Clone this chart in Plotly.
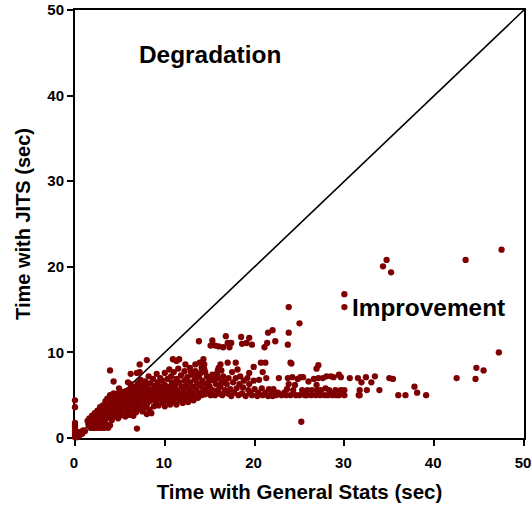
import plotly.graph_objects as go

diag_x = [0, 50]
diag_y = [0, 50]

# (general stats time, JITS time) pairs, region by region
on_axis = [[0,0.1],[0,0.3],[0,0.5],[0,0.8],[0,1.2],[0,1.5],[0,1.75],[0,3.6],[0,4.4],[0.1,0.2],[0.1,0.6],[0.2,0.1],
           [0.2,0.4],[0.3,0.3],[0.3,0.7],[0.4,0.2],[0.5,0.5],[0.6,0.4],[0.7,0.7],[0.8,0.5],[0.9,0.9],[1.1,0.8]]
low_left = [[1.4,2.0],[1.5,1.6],[1.6,2.3],[1.7,1.2],[1.8,1.9],[1.9,2.6],[2.0,1.2],[2.0,1.6],[2.1,2.2],[2.2,2.9],[2.2,1.2],
            [2.3,1.9],[2.4,2.5],[2.5,1.2],[2.5,1.6],[2.5,3.2],[2.6,2.1],[2.7,2.8],[2.8,1.2],[2.8,3.6],[2.9,1.7],[2.9,2.4],
            [3.0,1.2],[3.0,3.1],[3.1,2.0],[3.1,3.8],[3.2,2.7],[3.3,1.2],[3.3,3.4],[3.4,2.2],[3.4,4.3],[3.5,1.6],[3.5,2.9],
            [3.6,3.7],[3.6,4.6],[3.7,1.2],[3.7,2.4],[3.8,3.2],[3.8,4.1],[3.9,1.5],[3.9,2.7],[3.9,5.0],[4.0,3.5],[4.0,4.4]]
cluster_a = [[4.1,2.1],[4.2,3.0],[4.2,3.9],[4.3,4.7],[4.3,5.2],[4.4,2.6],[4.4,3.4],[4.5,4.2],[4.6,2.9],[4.6,5.0],[4.7,3.7],
             [4.8,2.3],[4.8,4.5],[4.9,3.2],[4.9,5.3],[5.0,2.6],[5.0,4.0],[5.1,4.8],[5.2,3.4],[5.2,5.4],[5.3,2.8],[5.4,4.3],
             [5.4,5.0],[5.5,3.7],[5.6,2.5],[5.6,4.6],[5.7,5.5],[5.8,3.2],[5.8,4.0],[5.9,4.9],[6.0,2.7],[6.0,3.6],[6.0,5.6],
             [6.1,4.4],[6.2,5.2],[6.2,6.3],[6.3,3.3],[6.3,4.0],[6.4,4.8],[6.4,5.7],[6.5,2.6],[6.5,3.6],[6.6,4.4],[6.7,5.2],
             [6.7,6.0],[6.8,3.0],[6.8,4.7],[6.9,3.9],[6.9,5.5],[7.0,3.4],[7.0,6.4],[7.1,4.4],[7.1,5.0],[7.2,5.8],[7.2,3.8],
             [7.3,4.7],[7.3,6.8],[7.4,5.3],[7.5,3.1],[7.5,4.2],[7.5,6.1],[7.6,4.9],[7.7,3.5],[7.7,5.6],[7.8,6.6],[7.9,4.4],
             [7.9,5.2],[8.0,2.8],[8.0,3.9],[8.0,6.0],[8.1,4.8],[8.2,5.5],[8.2,7.2],[8.3,3.3],[8.3,4.3],[8.4,6.4],[8.5,5.0],
             [8.5,2.9],[8.6,5.7],[8.7,4.5],[8.7,6.9],[8.8,3.7],[8.8,5.3],[8.9,6.1],[9.0,4.1],[9.0,4.9],[9.1,7.5],[9.2,5.6],
             [9.2,6.5],[9.3,3.8],[9.3,4.5],[9.4,5.2],[9.5,6.0],[9.5,7.0],[9.6,4.8],[9.7,5.5],[9.7,6.7],[9.8,4.1],[9.9,5.1]]
cluster_b = [[10.0,6.2],[10.0,3.7],[10.0,7.6],[10.1,4.6],[10.2,5.6],[10.3,6.9],[10.4,4.3],[10.4,5.0],[10.5,6.0],[10.5,8.0],
             [10.6,3.9],[10.7,5.4],[10.7,7.2],[10.8,4.7],[10.8,6.5],[10.9,5.8],[11.0,4.2],[11.0,7.7],[11.1,5.1],[11.2,6.2],
             [11.3,3.9],[11.3,6.9],[11.4,4.7],[11.4,5.6],[11.5,8.1],[11.6,6.5],[11.7,4.4],[11.7,5.2],[11.8,7.3],[11.9,6.0],
             [12.0,4.1],[12.0,4.9],[12.1,5.5],[12.2,6.7],[12.2,7.8],[12.3,4.5],[12.4,6.1],[12.5,5.1],[12.5,7.1],[12.6,4.2],
             [12.7,5.7],[12.8,6.5],[12.8,8.2],[12.9,4.8],[13.0,5.3],[13.0,7.4],[13.1,6.0],[13.2,4.4],[13.3,6.8],[13.4,5.0],
             [13.4,7.8],[13.5,5.7],[13.6,6.4],[13.7,4.7],[13.8,7.1],[13.9,5.3],[14.0,6.1],[14.0,7.6],[14.1,5.0],[14.2,6.7],
             [14.3,5.6],[14.4,8.0],[14.5,5.1],[14.6,6.3],[14.7,7.2],[14.8,5.3],[15.0,6.0],[15.1,5.0],[15.2,6.8],[15.3,5.6],
             [15.4,7.1],[15.6,5.0],[15.7,6.3],[15.9,5.6],[16.0,7.0],[16.1,5.2],[16.3,6.4],[16.4,5.0],[16.5,7.2],[16.7,5.6],
             [14.5,7.7],[14.9,6.6],[15.3,7.4],[15.5,6.7],[15.8,7.5],[16.2,6.0],[16.6,6.6],[12.9,7.7],[13.5,7.4],[14.6,5.8]]
band = [[16.9,6.3],[17.0,5.2],[17.1,7.0],[17.3,5.7],[17.4,4.9],[17.6,6.5],[17.7,5.3],[17.9,7.0],[18.0,5.8],[18.2,5.0],
        [18.3,6.3],[18.4,7.2],[18.6,5.2],[18.7,5.9],[18.8,6.7],[19.0,4.9],[19.2,7.0],[19.3,5.6],[19.4,6.3],[19.5,5.3],
        [19.7,5.0],[19.9,6.7],[20.0,5.7],[20.3,4.9],[20.4,5.3],[20.5,6.8],[20.8,5.8],[20.9,5.0],[21.2,5.3],[21.3,7.0],
        [21.5,4.9],[21.6,5.7],[21.9,5.2],[22.0,4.9],[22.1,5.7],[22.4,5.0],[22.6,5.3],[22.7,7.0],[23.0,5.0],[23.3,5.3],
        [23.5,5.0],[23.6,5.7],[23.7,7.0],[23.8,6.3],[24.0,5.0],[24.2,7.1],[24.3,5.6],[24.5,6.2],[24.6,5.0],[24.8,6.9],
        [25.0,5.0],[25.1,7.1],[25.3,5.6],[25.4,7.1],[25.6,5.0],[25.8,5.0],[25.9,5.6],[26.0,6.6],[26.3,5.0],[26.4,5.6],
        [26.6,6.9],[26.8,5.0],[26.9,6.2],[27.0,5.6],[27.1,7.0],[27.3,5.0],[27.4,5.6],[27.6,7.0],[27.8,5.0],[27.9,5.8],
        [28.0,7.2],[28.2,5.0],[28.3,5.6],[28.5,7.2],[28.6,5.2],[28.7,5.0],[28.8,7.1],[29.0,5.6],[29.1,5.0]]
upper = [[3.9,7.9],[8.0,9.1],[7.2,8.6],[6.2,7.5],[7.2,7.7],[6.9,7.6],[4.3,6.6],[5.9,6.5],[4.9,5.8],[6.9,1.1],
         [10.9,9.2],[11.6,9.2],[11.3,9.0],[12.3,8.6],[13.4,8.6],[13.9,8.8],[14.3,9.2],[14.4,8.6],[14.1,8.2],[17.0,8.8],
         [17.9,8.8],[16.2,8.6],[16.0,8.2],[15.9,7.9],[16.3,7.9],[18.1,8.0],[17.5,7.7],[20.7,8.8],[21.2,8.8],[19.9,8.3],
         [19.4,7.6],[20.9,7.7],[24.0,8.8],[13.8,11.3],[15.3,11.4],[15.1,10.8],[15.6,10.8],[16.0,10.7],[16.5,10.6],
         [16.8,11.9],[17.0,11.1],[17.4,11.1],[17.2,10.6],[18.5,11.8],[18.6,11.0],[19.1,11.1],[19.4,11.7],[19.7,10.9],
         [21.5,12.3],[22.0,12.6],[21.4,11.1],[21.1,10.6],[22.3,11.3],[23.8,12.3],[23.7,10.9],[23.8,15.3],[25.0,13.4],
         [24.1,8.7],[27.1,8.5],[26.9,8.1],[25.2,1.9]]
right = [[29.4,7.4],[29.6,7.1],[29.6,5.6],[29.4,5.0],[30.0,5.6],[30.0,5.0],[30.6,7.0],[31.5,7.0],[31.7,5.6],[31.7,5.0],
         [31.6,5.0],[31.9,6.5],[32.4,7.1],[32.5,5.6],[33.0,6.5],[33.4,7.2],[33.9,5.6],[35.0,7.0],[35.4,6.9],[36.0,5.0],
         [36.8,5.0],[37.8,6.0],[38.1,5.3],[39.1,5.0],[30.0,16.8],[30.0,15.3],[34.3,20.05],[34.7,20.8],[35.2,19.35],
         [43.5,20.8],[47.5,22.0],[47.2,10.0],[44.7,8.2],[45.5,7.9],[44.6,6.9],[42.5,7.0]]

points = on_axis + low_left + cluster_a + cluster_b + band + upper + right
time_general = [p[0] for p in points]
time_jits = [p[1] for p in points]

fig = go.Figure()
fig.add_trace(go.Scatter(x=diag_x, y=diag_y, mode="lines",
                         line=dict(color="#000000", width=1.6), hoverinfo="skip"))
fig.add_trace(go.Scatter(x=time_general, y=time_jits, mode="markers", cliponaxis=False,
                         marker=dict(color="#7f0000", size=6.3, line=dict(width=0))))

axis = dict(range=[0, 50], tick0=0, dtick=10, ticks="outside", ticklen=6, tickwidth=2,
            tickcolor="#000", showline=True, linecolor="#000", linewidth=2, mirror=True,
            showgrid=False, zeroline=False, layer="below traces", ticklabeloverflow="allow",
            tickprefix="<b>", ticksuffix="</b>",
            tickfont=dict(family="Liberation Sans", size=15, color="#000"))

fig.update_layout(
    width=532, height=509, showlegend=False, plot_bgcolor="#fff", paper_bgcolor="#fff",
    margin=dict(l=75, r=8, t=9.5, b=70.5),
    font=dict(family="Liberation Sans", color="#000"),
    xaxis=dict(axis, automargin="bottom", ticklabelstandoff=4, ticklabelshift=-1,
               title=dict(text="<b>Time with General Stats (sec)</b>", standoff=15,
                          font=dict(family="Liberation Sans", size=20.5))),
    yaxis=dict(axis, automargin="left",
               title=dict(text="<b>Time with JITS (sec)</b>", standoff=11,
                          font=dict(family="Liberation Sans", size=20))),
    annotations=[
        dict(x=15, y=44.8, xref="x", yref="y", text="<b>Degradation</b>", showarrow=False,
             font=dict(family="Liberation Sans", size=24.4), xanchor="center", yanchor="middle"),
        dict(x=39.4, y=15.2, xref="x", yref="y", text="<b>Improvement</b>", showarrow=False,
             font=dict(family="Liberation Sans", size=24.4), xanchor="center", yanchor="middle"),
    ],
)
fig.write_html("out.html",
               post_script="document.body.style.margin='0';document.body.style.overflow='hidden';",
               config={"displayModeBar": False})
